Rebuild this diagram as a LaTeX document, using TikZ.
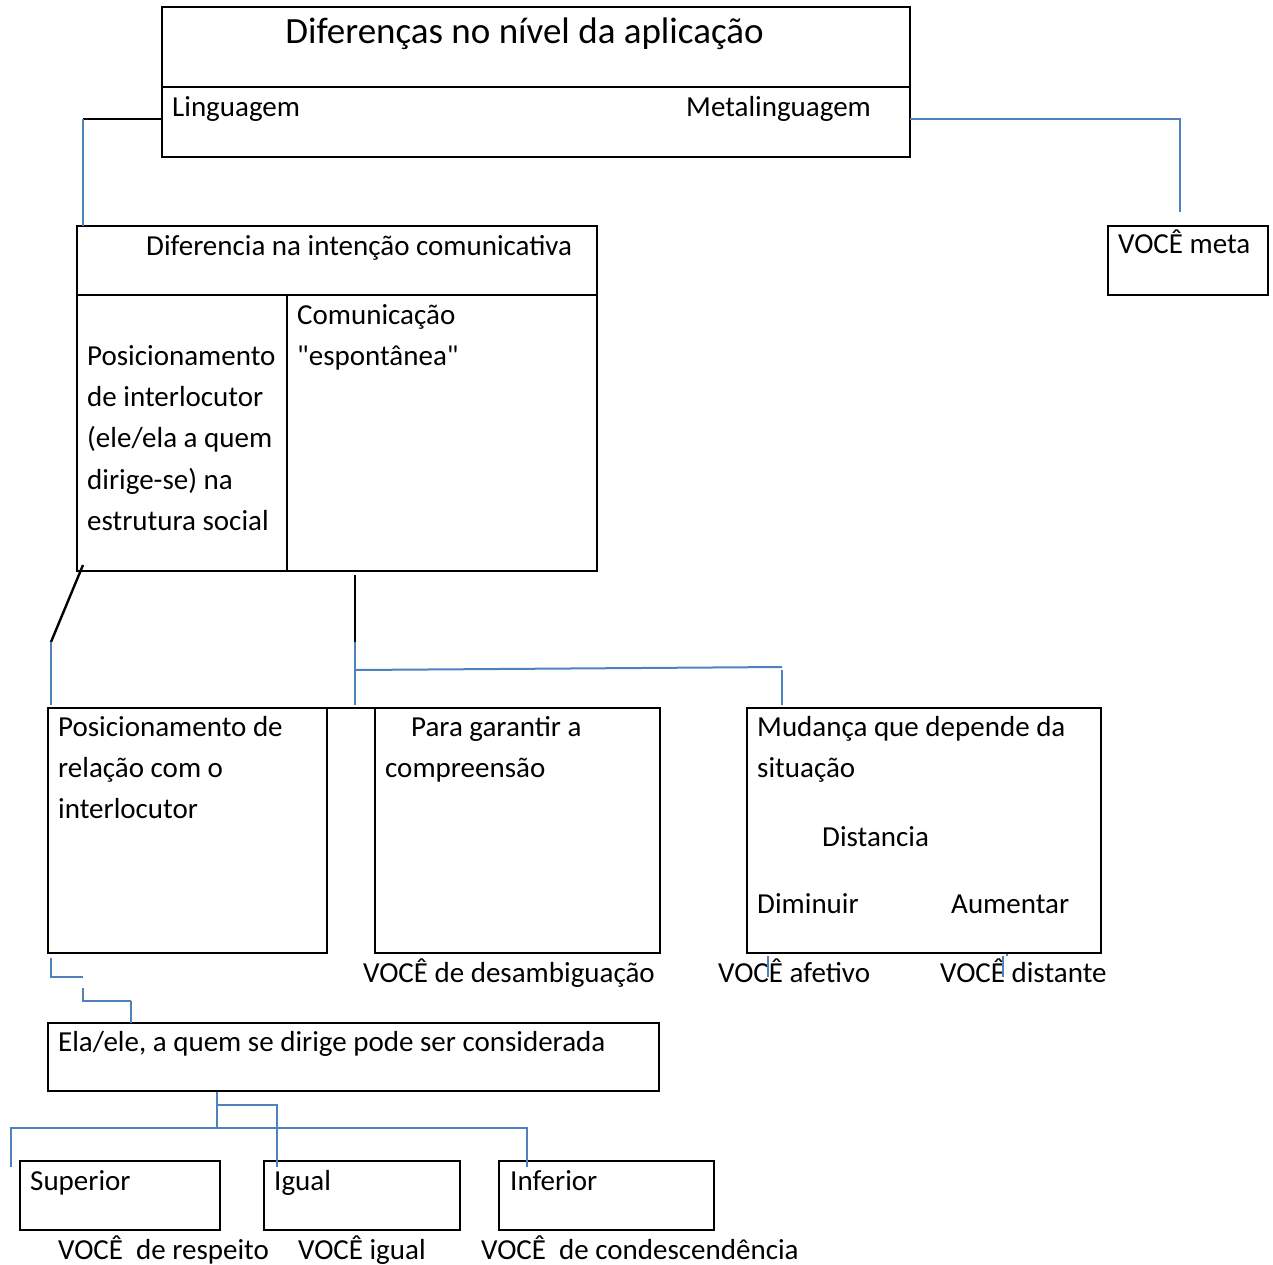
\documentclass[tikz,border=0pt]{standalone}
\usepackage{fontspec}
\setmainfont{Carlito}[Ligatures=TeXOff]
\definecolor{lineblue}{RGB}{79,129,189}
\begin{document}
\begin{tikzpicture}[x=1pt,y=-1pt,
  box/.style={draw=black, line width=2.4pt, anchor=north west, inner sep=0pt, outer sep=0pt},
  blk/.style={draw=black, line width=2.4pt},
  blu/.style={draw=lineblue, line width=2pt},
  thinblu/.style={draw=lineblue, line width=1.3pt},
  txt/.style={anchor=base west, inner sep=0pt, font=\fontsize{29}{41}\selectfont},
  ttl/.style={anchor=base, inner sep=0pt, font=\fontsize{37}{44}\selectfont}]
\useasboundingbox (0,0) rectangle (1273,1264);

% boxes
\node[box, minimum width=748pt, minimum height=150pt] (top) at (162,7) {};
\node[box, minimum width=160pt, minimum height=69pt] (meta) at (1108,226) {};
\node[box, minimum width=520pt, minimum height=345pt] (box2) at (77,226) {};
\node[box, minimum width=279pt, minimum height=245pt] (boxA) at (48,708) {};
\node[box, minimum width=285pt, minimum height=245pt] (boxB) at (375,708) {};
\node[box, minimum width=354pt, minimum height=245pt] (boxC) at (747,708) {};
\node[box, minimum width=611pt, minimum height=68pt] (boxD) at (48,1023) {};
\node[box, minimum width=200pt, minimum height=69pt] (sup) at (20,1161) {};
\node[box, minimum width=196pt, minimum height=69pt] (igu) at (264,1161) {};
\node[box, minimum width=215pt, minimum height=69pt] (inf) at (499,1161) {};

% inner dividers
\draw[line width=2.4pt] ([yshift=-80pt]top.north west) -- ([yshift=-80pt]top.north east);
\draw[line width=2.4pt] ([yshift=-69pt]box2.north west) -- ([yshift=-69pt]box2.north east);
\draw[line width=2.4pt] ([xshift=210pt,yshift=-69pt]box2.north west) -- ([xshift=210pt]box2.south west);
\draw[line width=2.4pt] (boxA.north east) -- (boxB.north west);

% texts
\node[ttl] (t0) at (524.5,43) {Diferenças no nível da aplicação};
\node[txt] (t1) at (172,116) {Linguagem};
\node[txt] (t2) at (686,116) {Metalinguagem};
\node[txt] (t3) at (1118,253) {VOCÊ meta};
\node[txt] (t4) at (146,255) {Diferencia na intenção comunicativa};
\node[txt] (t5) at (297,324) {Comunicação};
\node[txt] (t6) at (297,365) {"espontânea"};
\node[txt] (t7) at (87,365) {Posicionamento};
\node[txt] (t8) at (87,406) {de interlocutor};
\node[txt] (t9) at (87,447) {(ele/ela a quem};
\node[txt] (t10) at (87,489) {dirige-se) na};
\node[txt] (t11) at (87,530) {estrutura social};
\node[txt] (a1) at (58,736) {Posicionamento de};
\node[txt] (a2) at (58,777) {relação com o};
\node[txt] (a3) at (58,818) {interlocutor};
\node[txt] (b1) at (411,736) {Para garantir a};
\node[txt] (b2) at (385,777) {compreensão};
\node[txt] (c1) at (757,736) {Mudança que depende da};
\node[txt] (c2) at (757,777) {situação};
\node[txt] (c3) at (822,846) {Distancia};
\node[txt] (c4) at (757,913) {Diminuir};
\node[txt] (c5) at (951,913) {Aumentar};
\node[txt] (v1) at (363,982) {VOCÊ de desambiguação};
\node[txt] (v2) at (718,982) {VOCÊ afetivo};
\node[txt] (v3) at (940,982) {VOCÊ distante};
\node[txt] (d1) at (58,1051) {Ela/ele, a quem se dirige pode ser considerada};
\node[txt] (s1) at (30,1190) {Superior};
\node[txt] (s2) at (274,1190) {Igual};
\node[txt] (s3) at (510,1190) {Inferior};
\node[txt] (w1) at (58,1259) {VOCÊ\ \ de respeito};
\node[txt] (w2) at (298,1259) {VOCÊ igual};
\node[txt] (w3) at (481,1259) {VOCÊ\ \ de condescendência};

% junction coordinates
\coordinate (j1) at (83,119);
\coordinate (j2) at (1180,212);
\coordinate (j3) at (51,642);
\coordinate (j4) at (355,670);
\coordinate (j5) at (782,667);
\coordinate (j6) at (83,977);
\coordinate (j7) at (131,1001);
\coordinate (j8) at (217,1128);
\coordinate (j9) at (217,1105);
\coordinate (j10) at (277,1167);
\coordinate (l1) at (11,1167);
\coordinate (l2) at (527,1167);

% connectors
\draw[blk] ([yshift=-112pt]top.north west) -- (j1);
\draw[blu] (j1) -- (j1 |- box2.north);
\draw[blu] ([yshift=-112pt]top.north east) -| (j2);

\draw[blk] ([xshift=6pt,yshift=6pt]box2.south west) -- (j3);
\draw[blu] (j3) -- ([yshift=3pt]j3 |- boxA.north);

\draw[blk] ([yshift=-4pt]j4 |- box2.south) -- (j4);
\draw[blu] ([yshift=28pt]j4) -- ([yshift=3pt]j4 |- boxB.north);
\draw[blu] (j4) -- (j5);
\draw[blu] ([yshift=-3pt]j5) -- ([yshift=3pt]j5 |- boxC.north);

\draw[blu] ([xshift=3pt,yshift=-5pt]boxA.south west) |- (j6);
\draw[blu] ([yshift=-11pt]j6) |- (j7);
\draw[blu] (j7) -- (j7 |- boxD.north);

\draw[blu] ([yshift=-1pt]j8 |- boxD.south) -- (j8);
\draw[blu] (j9) -| (j10);
\draw[blu] (l1) |- (j8) -- (j8 -| l2) -- (l2);

\draw[thinblu] ([xshift=21pt,yshift=-3pt]boxC.south west) -- ++(0,21);
\draw[thinblu] ([xshift=256pt,yshift=-3pt]boxC.south west) -- ++(0,21);
\draw[thinblu] ([xshift=259pt,yshift=-2pt]boxC.south west) -- ++(2,0);
\end{tikzpicture}
\end{document}
